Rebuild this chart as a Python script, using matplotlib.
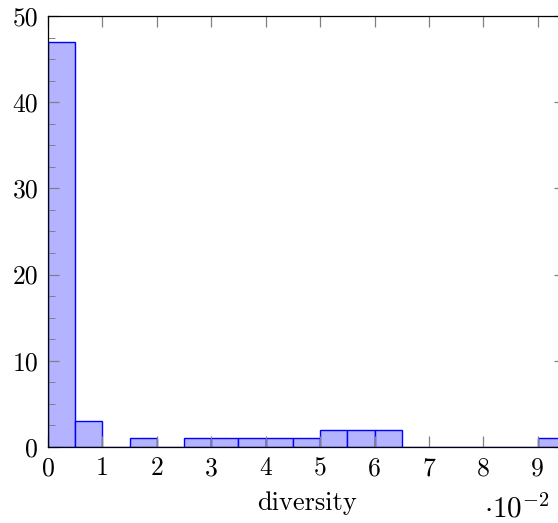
import numpy as np
import matplotlib
matplotlib.use("Agg")
import matplotlib.pyplot as plt
from matplotlib.ticker import MultipleLocator, FuncFormatter

# histogram of diversity, bin width 0.005
bin_width = 0.005
counts = [47, 3, 0, 1, 0, 1, 1, 1, 1, 1, 2, 2, 2, 0, 0, 0, 0, 0, 1]
x_ticks = [0, 1, 2, 3, 4, 5, 6, 7, 8, 9]

plt.rcParams['font.family'] = ['cmr10', 'DejaVu Serif']
plt.rcParams['mathtext.fontset'] = 'cm'
plt.rcParams['axes.unicode_minus'] = False

fig = plt.figure(figsize=(5.58, 5.23), dpi=100)
W, H = 558, 523
# axes extends past the right edge like in the cropped reference
ax = fig.add_axes([48 / W, 76 / H, 517 / W, 431 / H])
ax.set_axisbelow(False)

edges = np.arange(len(counts)) * bin_width
ax.bar(edges, counts, width=bin_width, align='edge',
       color='#b3b3ff', edgecolor='#0000ff', linewidth=1.0, zorder=2)

ax.set_xlim(0, len(counts) * bin_width)
ax.set_ylim(0, 50)

ax.xaxis.set_major_locator(plt.FixedLocator([t / 100 for t in x_ticks]))
ax.xaxis.set_major_formatter(FuncFormatter(lambda v, p: f"{round(v * 100):d}"))
ax.yaxis.set_major_locator(MultipleLocator(10))
ax.yaxis.set_minor_locator(MultipleLocator(2.5))

ax.tick_params(which='both', direction='in', top=True, right=True,
               color='#808080', labelsize=18.5)
ax.tick_params(which='major', length=8, width=0.9, pad=7)
ax.tick_params(which='minor', length=5, width=0.7)
for s in ax.spines.values():
    s.set_linewidth(0.9)
    s.set_zorder(4)

ax.set_xlabel("diversity", fontsize=19, labelpad=8)
fig.text(484 / W, 1 - 517 / H, r"$\cdot 10^{-2}$", fontsize=21,
         va='baseline', ha='left')

fig.savefig("out.png", dpi=100)
